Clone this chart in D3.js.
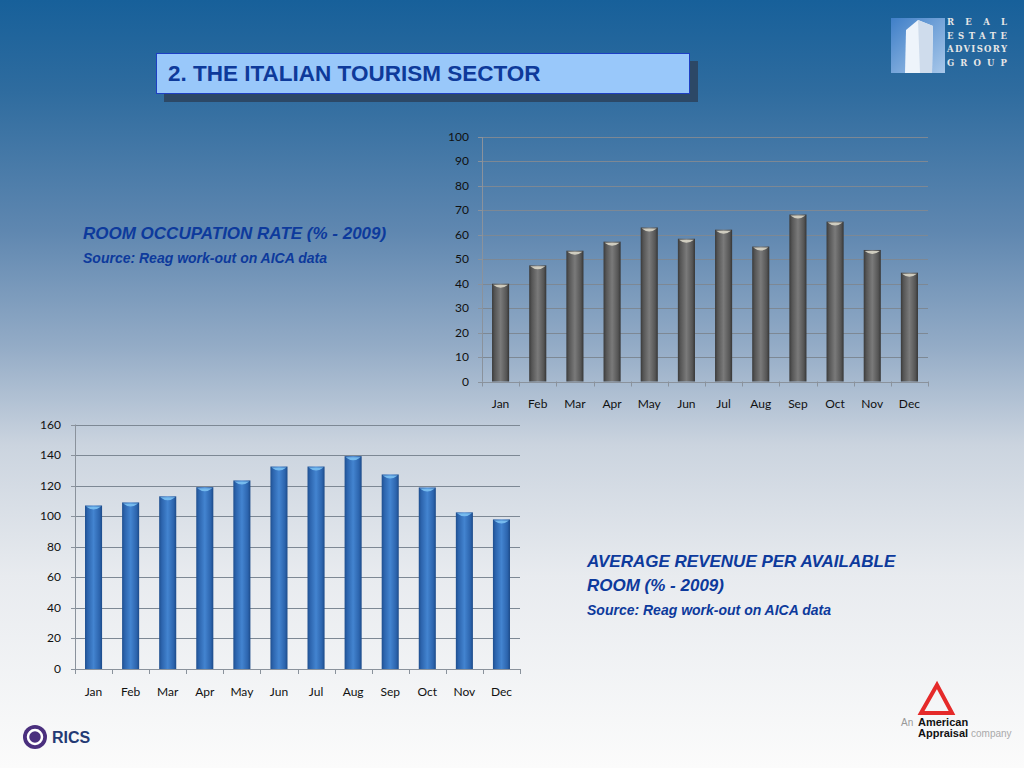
<!DOCTYPE html>
<html><head><meta charset="utf-8">
<script src="https://cdn.jsdelivr.net/npm/d3@7"></script>
<style>html,body{margin:0;padding:0;overflow:hidden;}svg{display:block;}</style>
</head><body>
<svg id="c" width="1024" height="768"></svg>
<script>
const months = ["Jan","Feb","Mar","Apr","May","Jun","Jul","Aug","Sep","Oct","Nov","Dec"];
const occupancy = [40, 47.5, 53.5, 57.2, 63, 58.4, 62.1, 55.2, 68.3, 65.4, 53.8, 44.5];
const revpar = [107, 109, 113, 119, 123.4, 132.5, 132.5, 139.3, 127.3, 118.8, 102.5, 97.9];
const occTicks = [0,10,20,30,40,50,60,70,80,90,100];
const revTicks = [0,20,40,60,80,100,120,140,160];

const svg = d3.select("#c");
const defs = svg.append("defs");
const bg = defs.append("linearGradient").attr("id","bg").attr("x1",0).attr("y1",0).attr("x2",0).attr("y2",1);
[[0,"#17609a"],[0.12,"#2f6c9f"],[0.3,"#5f87b0"],[0.45,"#93abc6"],[0.58,"#cbd4df"],[0.75,"#e8ebef"],[1,"#fbfbfb"]]
  .forEach(s=>bg.append("stop").attr("offset",s[0]).attr("stop-color",s[1]));
svg.append("rect").attr("width",1024).attr("height",768).attr("fill","url(#bg)");

function hgrad(id, stops){
  const g = defs.append("linearGradient").attr("id",id).attr("x1",0).attr("y1",0).attr("x2",1).attr("y2",0);
  stops.forEach(s=>g.append("stop").attr("offset",s[0]).attr("stop-color",s[1]));
}
hgrad("gray",[[0,"#3a3a3a"],[0.15,"#555"],[0.5,"#7a7a7a"],[0.85,"#555"],[1,"#353535"]]);
hgrad("blue",[[0,"#1f4f8f"],[0.15,"#2c64ad"],[0.5,"#4384d0"],[0.85,"#2c64ad"],[1,"#1c4a88"]]);

// Title box
svg.append("rect").attr("x",164).attr("y",61).attr("width",534).attr("height",41).attr("fill","#2c4866");
svg.append("rect").attr("x",156.5).attr("y",53.5).attr("width",533).attr("height",40).attr("fill","#99c8fa").attr("stroke","#1d3fc4").attr("stroke-width",1);
svg.append("text").attr("x",168).attr("y",81).attr("font-family","Liberation Sans, Arial, sans-serif")
  .attr("font-weight","bold").attr("font-size",22.5).attr("fill","#0e3a9a").text("2. THE ITALIAN TOURISM SECTOR");

// captions
const cap = (x,y,size,t)=>svg.append("text").attr("x",x).attr("y",y).attr("font-family","Liberation Sans, Arial, sans-serif")
  .attr("font-weight","bold").attr("font-style","italic").attr("font-size",size).attr("fill","#0d3a9c").text(t);
cap(83,239,17,"ROOM OCCUPATION RATE (% - 2009)");
cap(83,263,14,"Source: Reag work-out on AICA data");
cap(587,567,17,"AVERAGE REVENUE PER AVAILABLE");
cap(587,591,17,"ROOM (% - 2009)");
cap(587,615,14,"Source: Reag work-out on AICA data");

function chart(opts){
  const {x0,x1,y0,y1,max,ticks,data,fill,cap,labelX,catY} = opts;
  const x = d3.scaleBand().domain(months).range([x0,x1]).paddingInner(0.54).paddingOuter(0.27);
  const y = d3.scaleLinear().domain([0,max]).range([y0,y1]);
  const g = svg.append("g");
  g.selectAll("line.grid").data(ticks.filter(t=>t>0)).join("line")
    .attr("x1",x0).attr("x2",x1).attr("y1",d=>Math.round(y(d))+0.5).attr("y2",d=>Math.round(y(d))+0.5)
    .attr("stroke","#7d8894").attr("stroke-width",1);
  g.selectAll("text.yl").data(ticks).join("text")
    .attr("x",labelX).attr("y",d=>y(d)+4).attr("text-anchor","end")
    .attr("font-family","Lato, Open Sans, sans-serif").attr("font-size",12).attr("fill","#111").text(d=>d);
  g.append("line").attr("x1",x0+0.5).attr("x2",x0+0.5).attr("y1",y1).attr("y2",y0).attr("stroke","#8a929c");
  ticks.forEach(t=>g.append("line").attr("x1",x0-4).attr("x2",x0).attr("y1",Math.round(y(t))+0.5).attr("y2",Math.round(y(t))+0.5).attr("stroke","#8a929c"));
  g.selectAll("rect.bar").data(data).join("rect")
    .attr("x",(d,i)=>x(months[i])).attr("width",x.bandwidth())
    .attr("y",d=>y(d)).attr("height",d=>y0-y(d)).attr("fill","url(#"+fill+")");
  g.selectAll("path.cap").data(data).join("path")
    .attr("d",(d,i)=>{const bx=x(months[i]), w=x.bandwidth(), ty=y(d);
      return `M${bx+1},${ty+1} L${bx+w-1},${ty+1} Q${bx+w/2},${ty+7} ${bx+1},${ty+1}Z`;})
    .attr("fill",cap).attr("opacity",0.9);
  g.append("line").attr("x1",x0).attr("x2",x1).attr("y1",Math.round(y0)+0.5).attr("y2",Math.round(y0)+0.5).attr("stroke","#8a929c");
  d3.range(13).forEach(i=>{const xx = Math.round(x0 + (x1-x0)*i/12)+0.5;
    g.append("line").attr("x1",xx).attr("x2",xx).attr("y1",y0).attr("y2",y0+5).attr("stroke","#8a929c");});
  g.selectAll("text.xl").data(months).join("text")
    .attr("x",d=>x(d)+x.bandwidth()/2).attr("y",catY).attr("text-anchor","middle")
    .attr("font-family","Lato, Open Sans, sans-serif").attr("font-size",12).attr("fill","#111").text(d=>d);
}
chart({x0:482,x1:928,y0:381.5,y1:137,max:100,ticks:occTicks,data:occupancy,fill:"gray",cap:"#d9d6c8",labelX:469,catY:408});
chart({x0:75,x1:520,y0:669,y1:424.5,max:160,ticks:revTicks,data:revpar,fill:"blue",cap:"#7cc1f2",labelX:61,catY:696});

// Top-right logo
const lg = defs.append("linearGradient").attr("id","bld").attr("x1",0).attr("y1",0).attr("x2",1).attr("y2",1);
lg.append("stop").attr("offset",0).attr("stop-color","#3f7fc8");
lg.append("stop").attr("offset",1).attr("stop-color","#a9c8ea");
svg.append("rect").attr("x",891).attr("y",18).attr("width",54).attr("height",55).attr("fill","url(#bld)");
svg.append("path").attr("d","M905,73 L906,30 L918,20 L933,26 L932,73 Z").attr("fill","#eef4fb");
svg.append("path").attr("d","M918,20 L920,73 L932,73 L933,26 Z").attr("fill","#cfdcec");
["REAL","ESTATE","ADVISORY","GROUP"].forEach((t,i)=>
  svg.append("text").attr("x",947).attr("y",25+i*13.5).attr("font-family","DejaVu Serif, serif").attr("font-size",8.5)
    .attr("font-weight","bold").attr("fill","#e6e6e6").attr("textLength",60).attr("lengthAdjust","spacing").text(t));

// RICS logo
svg.append("circle").attr("cx",35).attr("cy",737).attr("r",12).attr("fill","#4a2f7e");
svg.append("circle").attr("cx",35).attr("cy",737).attr("r",7).attr("fill","none").attr("stroke","#ffffff").attr("stroke-width",2.5);
svg.append("text").attr("x",52).attr("y",743).attr("font-family","Liberation Sans, Arial, sans-serif").attr("font-weight","bold")
  .attr("font-size",16).attr("fill","#243a74").text("RICS");

// American Appraisal logo
svg.append("path").attr("d","M937,685 L952,713 L921,713 Z").attr("fill","none").attr("stroke","#e52a2a").attr("stroke-width",4);
svg.append("text").attr("x",901).attr("y",726).attr("font-family","Liberation Sans, Arial, sans-serif").attr("font-size",10).attr("fill","#999").text("An");
svg.append("text").attr("x",918).attr("y",726).attr("font-family","Liberation Sans, Arial, sans-serif").attr("font-weight","bold").attr("font-size",11).attr("fill","#111").text("American");
svg.append("text").attr("x",918).attr("y",737).attr("font-family","Liberation Sans, Arial, sans-serif").attr("font-weight","bold").attr("font-size",11).attr("fill","#111").text("Appraisal");
svg.append("text").attr("x",971).attr("y",737).attr("font-family","Liberation Sans, Arial, sans-serif").attr("font-size",10).attr("fill","#aaa").text("company");
</script>
</body></html>
